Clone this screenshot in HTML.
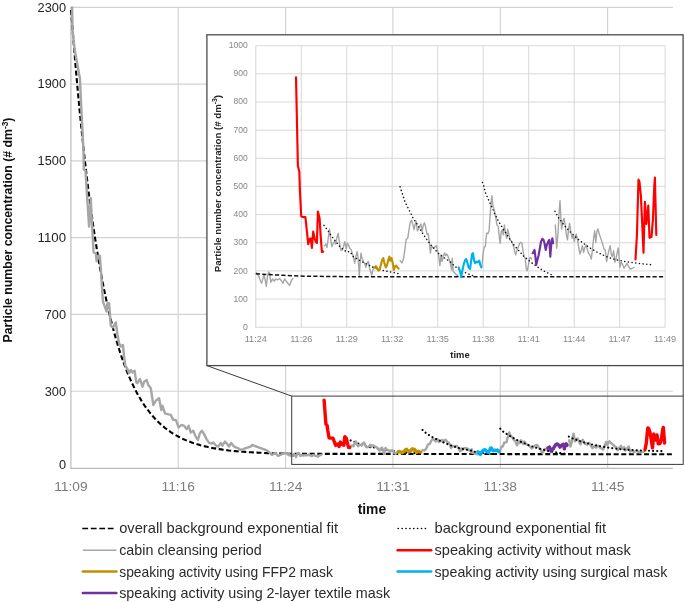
<!DOCTYPE html>
<html><head><meta charset="utf-8"><title>chart</title><style>html,body{margin:0;padding:0;background:#fff}body{width:685px;height:602px;overflow:hidden}</style></head><body>
<svg width="685" height="602" viewBox="0 0 685 602" style="display:block;will-change:transform;font-family:'Liberation Sans',sans-serif">
<rect width="685" height="602" fill="#fff"/>
<g stroke="#d2d2d2" stroke-width="1.15" fill="none">
<line x1="70.9" x2="672.8" y1="7.3" y2="7.3"/>
<line x1="70.9" x2="672.8" y1="84.1" y2="84.1"/>
<line x1="70.9" x2="672.8" y1="160.9" y2="160.9"/>
<line x1="70.9" x2="672.8" y1="237.6" y2="237.6"/>
<line x1="70.9" x2="672.8" y1="314.4" y2="314.4"/>
<line x1="70.9" x2="672.8" y1="391.2" y2="391.2"/>
<line x1="178.2" x2="178.2" y1="7.3" y2="468.3"/>
<line x1="285.6" x2="285.6" y1="7.3" y2="468.3"/>
<line x1="392.9" x2="392.9" y1="7.3" y2="468.3"/>
<line x1="500.3" x2="500.3" y1="7.3" y2="468.3"/>
<line x1="607.6" x2="607.6" y1="7.3" y2="468.3"/>
</g>
<g stroke="#bcbcbc" stroke-width="1.2" fill="none"><line x1="70.9" x2="70.9" y1="6.8" y2="468.9"/><line x1="70.3" x2="672.8" y1="468.3" y2="468.3"/></g>
<g font-size="12.3" fill="#222" text-anchor="end">
<text x="66" y="11.6" textLength="28.4" lengthAdjust="spacingAndGlyphs">2300</text>
<text x="66" y="88.4" textLength="28.4" lengthAdjust="spacingAndGlyphs">1900</text>
<text x="66" y="165.2" textLength="28.4" lengthAdjust="spacingAndGlyphs">1500</text>
<text x="66" y="241.9" textLength="28.4" lengthAdjust="spacingAndGlyphs">1100</text>
<text x="66" y="318.7" textLength="21.3" lengthAdjust="spacingAndGlyphs">700</text>
<text x="66" y="395.5" textLength="21.3" lengthAdjust="spacingAndGlyphs">300</text>
<text x="66" y="469.1" textLength="7.1" lengthAdjust="spacingAndGlyphs">0</text>
</g>
<g font-size="12.3" fill="#7c7c7c" text-anchor="middle">
<text x="70.9" y="491.2" textLength="33.4" lengthAdjust="spacingAndGlyphs">11:09</text>
<text x="178.2" y="491.2" textLength="33.4" lengthAdjust="spacingAndGlyphs">11:16</text>
<text x="285.6" y="491.2" textLength="33.4" lengthAdjust="spacingAndGlyphs">11:24</text>
<text x="392.9" y="491.2" textLength="33.4" lengthAdjust="spacingAndGlyphs">11:31</text>
<text x="500.3" y="491.2" textLength="33.4" lengthAdjust="spacingAndGlyphs">11:38</text>
<text x="607.6" y="491.2" textLength="33.4" lengthAdjust="spacingAndGlyphs">11:45</text>
</g>
<text x="371.9" y="514" font-size="14.8" font-weight="bold" fill="#111" text-anchor="middle" textLength="28.5" lengthAdjust="spacingAndGlyphs">time</text>
<text transform="translate(12.4 230) rotate(-90)" font-size="12.27" font-weight="bold" fill="#111" text-anchor="middle">Particle number concentration (# dm<tspan font-size="8.4" dy="-4.6">-3</tspan><tspan dy="4.6">)</tspan></text>
<g fill="none" stroke-linejoin="round" stroke-linecap="round">
<path d="M71.1 10.0 L73.1 35.9 L75.1 60.3 L77.1 83.3 L79.1 105.0 L81.1 125.4 L83.1 144.5 L85.1 162.6 L87.1 179.6 L89.1 195.7 L91.1 210.8 L93.1 225.0 L95.1 238.3 L97.1 250.9 L99.1 262.8 L101.1 274.0 L103.1 284.5 L105.1 294.4 L107.1 303.7 L109.1 312.5 L111.1 320.8 L113.1 328.6 L115.1 335.9 L117.1 342.8 L119.1 349.3 L121.1 355.5 L123.1 361.2 L125.1 366.7 L127.1 371.8 L129.1 376.6 L131.1 381.1 L133.1 385.4 L135.1 389.4 L137.1 393.2 L139.1 396.8 L141.1 400.1 L143.1 403.3 L145.1 406.3 L147.1 409.1 L149.1 411.7 L151.1 414.2 L153.1 416.5 L155.1 418.7 L157.1 420.8 L159.1 422.8 L161.1 424.6 L163.1 426.3 L165.1 428.0 L167.1 429.5 L169.1 430.9 L171.1 432.3 L173.1 433.6 L175.1 434.8 L177.1 435.9 L179.1 437.0 L181.1 438.0 L183.1 439.0 L185.1 439.9 L187.1 440.7 L189.1 441.5 L191.1 442.2 L193.1 443.0 L195.1 443.6 L197.1 444.2 L199.1 444.8 L201.1 445.4 L203.1 445.9 L205.1 446.4 L207.1 446.8 L209.1 447.3 L211.1 447.7 L213.1 448.1 L215.1 448.4 L217.1 448.8 L219.1 449.1 L221.1 449.4 L223.1 449.7 L225.1 450.0 L227.1 450.2 L229.1 450.5 L231.1 450.7 L233.1 450.9 L235.1 451.1 L237.1 451.3 L239.1 451.5 L241.1 451.6 L243.1 451.8 L245.1 451.9 L247.1 452.1 L249.1 452.2 L251.1 452.3 L253.1 452.4 L255.1 452.5 L257.1 452.6 L259.1 452.7 L261.1 452.8 L263.1 452.9 L265.1 453.0 L267.1 453.1 L269.1 453.1 L271.1 453.2 L273.1 453.3 L275.1 453.3 L277.1 453.4 L279.1 453.4 L281.1 453.5 L283.1 453.5 L285.1 453.6 L287.1 453.6 L289.1 453.7 L291.1 453.7 L293.1 453.7 L295.1 453.8 L297.1 453.8 L299.1 453.8 L673.0 454.3" stroke="#000" stroke-width="2.1" stroke-dasharray="5 2.6" stroke-linecap="butt"/>
<path d="M350.6 440.4 L353.7 441.6 L359.2 443.9 L365.5 446.2 L371.8 447.6 L375.1 447.5 L378.3 448.9 L384.6 450.0 L390.9 450.9 L397.1 451.8 L403.4 452.5 L409.7 452.9 L416.0 453.2 L421.5 453.5" stroke="#000" stroke-width="2.1" stroke-dasharray="0.1 4.0"/>
<path d="M72.1 7.5 L72.5 30.0 L74.7 50.0 L80.0 79.0 L80.9 100.0 L83.5 150.0 L83.8 169.5 L85.5 170.8 L87.0 195.0 L89.1 226.6 L90.8 198.3 L91.6 216.6 L93.6 252.3 L95.8 253.1 L96.6 261.4 L98.3 255.6 L99.9 255.6 L101.2 274.7 L102.4 293.8 L103.0 301.6 L106.6 311.6 L107.5 303.3 L109.1 303.3 L110.0 315.0 L110.8 325.8 L113.0 327.4 L115.8 322.4 L117.5 334.9 L119.1 343.2 L120.8 346.6 L122.9 344.9 L124.1 356.6 L125.3 365.7 L127.4 369.0 L129.1 373.2 L130.8 369.9 L132.4 372.4 L134.6 370.7 L136.3 382.3 L137.4 383.2 L139.9 379.0 L142.5 386.7 L144.2 381.7 L146.7 380.0 L148.3 385.0 L150.8 388.3 L153.3 405.0 L155.8 400.8 L159.1 398.3 L161.3 410.0 L162.5 405.8 L165.0 413.3 L167.5 414.1 L170.8 414.9 L173.3 419.9 L175.8 419.9 L178.6 427.4 L181.6 424.9 L184.1 425.8 L186.6 429.1 L188.6 425.8 L190.7 432.4 L193.2 430.7 L195.7 436.6 L197.9 439.9 L199.9 433.2 L201.9 430.7 L204.1 434.1 L206.6 439.1 L209.1 442.9 L211.5 443.6 L213.2 442.4 L215.7 445.2 L218.2 446.6 L220.7 442.9 L222.4 445.7 L224.9 441.6 L227.4 444.1 L229.0 446.6 L231.2 442.9 L233.2 445.7 L235.7 447.4 L238.2 448.2 L240.7 449.9 L243.2 449.1 L245.7 448.2 L248.2 447.4 L250.6 446.6 L252.3 444.9 L254.0 445.7 L266.8 450.4 L268.6 451.7 L271.9 454.9 L275.1 452.9 L278.1 455.9 L281.9 454.2 L285.7 452.9 L289.4 455.4 L293.2 455.9 L286.6 453.3 L288.2 453.9 L289.3 454.5 L290.4 455.4 L291.6 456.1 L292.9 454.8 L294.0 453.9 L295.1 455.4 L296.0 457.0 L297.1 454.3 L298.2 453.0 L299.2 453.4 L300.3 455.9 L301.9 455.0 L303.4 455.6 L305.0 455.0 L306.6 455.2 L308.6 454.8 L310.2 455.4 L311.8 456.1 L313.3 455.0 L314.9 455.6 L316.5 456.2 L318.1 456.7 L319.6 455.4 L321.2 454.8" stroke="#a6a6a6" stroke-width="2.4"/>
<path d="M351.1 445.9 L352.2 445.5 L353.4 446.4 L354.5 443.9 L355.8 441.4 L356.9 444.3 L358.0 446.2 L359.2 445.3 L360.5 444.8 L361.6 445.5 L362.7 443.7 L364.0 442.5 L365.2 445.3 L366.3 447.1 L367.9 447.2 L369.0 446.2 L370.3 444.8 L371.5 446.8 L372.6 445.3 L373.7 445.7 L375.0 446.6 L376.4 447.1 L377.5 448.2 L378.6 449.3 L379.5 450.7 L380.6 448.9 L381.9 447.5 L383.0 449.8 L383.9 454.1 L384.9 449.8 L385.5 448.0 L386.5 449.3 L387.7 450.2 L389.0 450.7 L390.1 451.8 L391.3 450.7 L392.4 450.2 L393.7 452.0 L394.8 453.2 L395.6 453.9 L396.8 452.5 L397.6 451.7" stroke="#a6a6a6" stroke-width="2.4"/>
<path d="M422.6 450.0 L424.2 450.6 L425.8 449.3 L427.0 446.8 L428.3 444.1 L429.7 444.0 L430.9 441.4 L432.1 439.6 L433.3 438.9 L434.6 440.3 L435.7 441.5 L436.8 440.0 L437.7 439.3 L438.8 441.9 L439.9 441.4 L441.2 440.5 L442.3 440.0 L443.2 442.1 L444.3 440.5 L445.4 439.7 L446.7 441.0 L447.8 442.8 L449.0 442.6 L450.1 445.3 L451.1 448.0 L452.2 445.9 L453.3 446.4 L454.5 446.6 L455.6 446.2 L456.9 445.9 L458.0 447.5 L458.9 448.6 L460.0 451.4 L461.1 448.4 L462.1 450.2 L463.2 448.9 L464.4 447.9 L465.5 448.6 L466.6 448.2 L467.9 448.9 L469.0 449.8 L470.3 451.1 L471.0 452.5 L471.8 449.3 L472.8 452.9 L474.3 453.4 L475.9 453.9 L477.5 454.2" stroke="#a6a6a6" stroke-width="2.4"/>
<path d="M499.8 451.6 L500.8 448.6 L501.9 446.4 L503.0 446.2 L504.2 442.5 L505.5 442.6 L506.6 441.9 L507.4 438.5 L508.2 435.3 L509.3 432.4 L510.2 435.1 L511.0 435.8 L511.8 436.7 L512.9 438.2 L514.0 440.3 L515.2 440.7 L516.3 443.9 L517.1 445.3 L518.1 442.1 L519.2 441.6 L519.9 443.0 L521.0 440.3 L522.0 442.3 L523.1 443.9 L524.2 441.4 L525.1 442.5 L526.2 444.3 L527.3 444.6 L528.6 445.3 L529.7 446.2 L531.0 447.7 L531.7 448.4 L533.0 447.1 L534.1 446.4 L535.4 445.3 L536.5 445.0 L537.6 445.3 L538.5 447.1 L539.6 448.9 L540.7 449.3 L541.6 452.0 L542.4 452.7 L543.5 451.6 L544.6 449.3 L545.9 449.1 L546.7 449.6" stroke="#a6a6a6" stroke-width="2.4"/>
<path d="M569.2 440.3 L570.4 446.6 L571.7 442.5 L572.8 436.7 L573.6 433.7 L574.4 438.0 L575.1 441.4 L576.4 439.1 L577.5 438.5 L578.6 440.5 L579.5 442.8 L580.6 444.3 L581.7 441.4 L582.7 439.8 L583.8 442.1 L585.0 443.9 L586.1 443.2 L587.1 444.8 L588.0 443.4 L589.0 442.8 L590.1 444.3 L591.2 446.2 L592.4 448.2 L593.7 447.1 L594.8 445.9 L595.9 447.7 L597.1 446.4 L598.4 445.7 L599.5 447.1 L600.6 448.0 L601.9 448.4 L603.1 449.6 L604.2 447.1 L605.3 443.9 L606.3 441.9 L607.4 445.0 L608.5 442.1 L609.4 441.3 L610.5 442.5 L612.1 443.9 L613.7 445.3 L615.2 446.8 L616.3 447.1 L617.6 450.2 L618.7 448.6 L619.9 447.1 L621.1 445.9 L622.0 448.2 L623.1 448.9 L624.2 447.3 L625.5 450.5 L626.6 449.3 L627.5 448.0 L628.6 446.5 L629.4 448.9 L630.2 451.8 L631.4 450.5 L632.5 450.9 L634.1 452.0 L635.7 451.4 L636.8 450.7 L638.0 451.4 L639.6 452.3 L641.5 452.1 L643.5 451.8" stroke="#a6a6a6" stroke-width="2.4"/>
<path d="M422.5 429.9 L423.4 430.8 L427.0 433.9 L431.7 436.7 L434.9 438.5 L438.0 439.8 L442.7 442.1 L447.5 444.1 L452.2 445.9 L458.5 448.0 L464.8 449.3 L469.6 450.2 L474.3 451.6 L479.1 452.5 L485.4 453.4 L490.1 453.9 L494.0 454.2" stroke="#000" stroke-width="2.1" stroke-dasharray="0.1 4.0"/>
<path d="M500.3 428.7 L501.5 429.6 L502.6 431.1 L505.8 433.3 L508.9 435.3 L512.1 437.3 L515.2 439.1 L519.9 441.4 L524.7 443.4 L529.4 445.5 L534.1 447.1 L538.8 448.6 L543.5 449.8 L548.2 450.9 L553.0 451.8 L557.7 452.7 L562.4 453.4 L565.9 453.9" stroke="#000" stroke-width="2.1" stroke-dasharray="0.1 4.0"/>
<path d="M568.8 436.6 L572.0 438.2 L576.7 440.0 L581.4 441.6 L586.1 443.0 L590.9 444.2 L595.6 445.3 L601.9 446.5 L608.2 447.6 L614.4 448.5 L620.7 449.2 L627.0 449.8 L633.3 450.1 L639.6 450.4 L645.9 450.6 L652.2 450.9 L658.5 451.0 L662.4 451.2" stroke="#000" stroke-width="2.1" stroke-dasharray="0.1 4.0"/>
<path d="M324.1 400.1 L325.9 424.2 L327.2 425.7 L327.8 430.8 L329.1 437.9 L330.6 438.1 L333.0 438.1 L334.1 441.2 L335.7 445.5 L336.9 444.1 L338.0 443.9 L339.1 446.5 L340.4 442.1 L341.6 443.9 L342.7 444.8 L343.8 445.2 L344.8 436.7 L346.4 438.5 L347.5 443.4 L348.6 447.6 L349.8 447.5" stroke="#ff0000" stroke-width="3.4"/>
<path d="M398.4 451.8 L399.5 451.5 L400.8 452.0 L402.2 452.7 L403.4 452.0 L404.5 450.9 L405.5 449.8 L406.6 449.3 L407.7 450.7 L408.9 451.8 L410.0 451.4 L411.3 449.8 L412.4 448.9 L413.3 450.0 L414.4 449.3 L415.5 450.7 L416.5 452.5 L417.6 451.6 L418.8 451.4 L419.9 451.8 L421.0 452.1" stroke="#bf9000" stroke-width="3.4"/>
<path d="M477.8 451.8 L479.1 452.9 L480.3 454.4 L481.4 452.5 L482.7 450.9 L484.1 449.8 L485.0 449.6 L486.1 450.7 L487.2 451.8 L488.5 452.3 L489.6 450.2 L490.5 448.2 L491.3 448.0 L492.4 450.0 L493.5 450.7 L494.8 450.2 L496.0 450.5 L497.3 450.0 L498.2 451.1 L499.2 451.8" stroke="#00b0f0" stroke-width="3.4"/>
<path d="M547.8 448.0 L548.7 447.5 L549.5 447.1 L550.3 448.9 L551.1 451.1 L552.2 449.8 L553.3 448.6 L554.5 446.6 L555.6 444.8 L556.9 444.0 L558.0 444.3 L558.9 445.3 L560.0 447.1 L561.1 445.7 L562.4 444.8 L563.5 444.3 L564.4 448.9 L565.2 445.7 L566.3 443.9 L567.1 445.3" stroke="#7030a0" stroke-width="3.4"/>
<path d="M645.0 449.6 L646.3 443.2 L647.2 433.5 L647.8 427.9 L648.7 428.6 L650.0 432.4 L651.4 440.5 L652.5 447.9 L653.8 434.0 L655.1 440.0 L656.3 437.3 L657.0 435.0 L658.2 443.8 L660.0 443.5 L661.4 438.9 L662.7 429.7 L663.3 427.4 L664.6 443.0" stroke="#ff0000" stroke-width="3.4"/>
</g>
<g fill="none" stroke="#3a3a3a" stroke-width="1">
<rect x="291.7" y="396.1" width="391.5" height="68.3"/>
<line x1="206.8" y1="365.6" x2="291.7" y2="396.1"/>
<line x1="683.2" y1="365.6" x2="683.2" y2="396.1"/>
</g>
<rect x="206.9" y="34.8" width="476.2" height="330.8" fill="#fff" stroke="#4a4a4a" stroke-width="1.3"/>
<g stroke="#d5d5d5" stroke-width="0.9" fill="none">
<line x1="255.8" x2="665.1" y1="299.1" y2="299.1"/>
<line x1="255.8" x2="665.1" y1="270.9" y2="270.9"/>
<line x1="255.8" x2="665.1" y1="242.8" y2="242.8"/>
<line x1="255.8" x2="665.1" y1="214.6" y2="214.6"/>
<line x1="255.8" x2="665.1" y1="186.4" y2="186.4"/>
<line x1="255.8" x2="665.1" y1="158.3" y2="158.3"/>
<line x1="255.8" x2="665.1" y1="130.2" y2="130.2"/>
<line x1="255.8" x2="665.1" y1="102.0" y2="102.0"/>
<line x1="255.8" x2="665.1" y1="73.8" y2="73.8"/>
<line x1="255.8" x2="665.1" y1="45.7" y2="45.7"/>
<line x1="301.3" x2="301.3" y1="45.7" y2="327.2"/>
<line x1="346.8" x2="346.8" y1="45.7" y2="327.2"/>
<line x1="392.2" x2="392.2" y1="45.7" y2="327.2"/>
<line x1="437.7" x2="437.7" y1="45.7" y2="327.2"/>
<line x1="483.2" x2="483.2" y1="45.7" y2="327.2"/>
<line x1="528.7" x2="528.7" y1="45.7" y2="327.2"/>
<line x1="574.2" x2="574.2" y1="45.7" y2="327.2"/>
<line x1="619.6" x2="619.6" y1="45.7" y2="327.2"/>
<line x1="665.1" x2="665.1" y1="45.7" y2="327.2"/>
</g>
<g stroke="#cfcfcf" stroke-width="0.9" fill="none"><line x1="255.8" x2="255.8" y1="45.7" y2="327.6"/><line x1="255.4" x2="665.1" y1="327.2" y2="327.2"/></g>
<g font-size="8.3" fill="#868686" text-anchor="end">
<text x="247.7" y="329.9" textLength="4.8" lengthAdjust="spacingAndGlyphs">0</text>
<text x="247.7" y="301.8" textLength="14.2" lengthAdjust="spacingAndGlyphs">100</text>
<text x="247.7" y="273.6" textLength="14.2" lengthAdjust="spacingAndGlyphs">200</text>
<text x="247.7" y="245.4" textLength="14.2" lengthAdjust="spacingAndGlyphs">300</text>
<text x="247.7" y="217.2" textLength="14.2" lengthAdjust="spacingAndGlyphs">400</text>
<text x="247.7" y="189.0" textLength="14.2" lengthAdjust="spacingAndGlyphs">500</text>
<text x="247.7" y="160.8" textLength="14.2" lengthAdjust="spacingAndGlyphs">600</text>
<text x="247.7" y="132.6" textLength="14.2" lengthAdjust="spacingAndGlyphs">700</text>
<text x="247.7" y="104.4" textLength="14.2" lengthAdjust="spacingAndGlyphs">800</text>
<text x="247.7" y="76.2" textLength="14.2" lengthAdjust="spacingAndGlyphs">900</text>
<text x="247.7" y="48.0" textLength="19.0" lengthAdjust="spacingAndGlyphs">1000</text>
</g>
<g font-size="8.3" fill="#868686" text-anchor="middle">
<text x="255.8" y="342.1" textLength="22.3" lengthAdjust="spacingAndGlyphs">11:24</text>
<text x="301.3" y="342.1" textLength="22.3" lengthAdjust="spacingAndGlyphs">11:26</text>
<text x="346.8" y="342.1" textLength="22.3" lengthAdjust="spacingAndGlyphs">11:29</text>
<text x="392.2" y="342.1" textLength="22.3" lengthAdjust="spacingAndGlyphs">11:32</text>
<text x="437.7" y="342.1" textLength="22.3" lengthAdjust="spacingAndGlyphs">11:35</text>
<text x="483.2" y="342.1" textLength="22.3" lengthAdjust="spacingAndGlyphs">11:38</text>
<text x="528.7" y="342.1" textLength="22.3" lengthAdjust="spacingAndGlyphs">11:41</text>
<text x="574.2" y="342.1" textLength="22.3" lengthAdjust="spacingAndGlyphs">11:44</text>
<text x="619.6" y="342.1" textLength="22.3" lengthAdjust="spacingAndGlyphs">11:47</text>
<text x="665.1" y="342.1" textLength="22.3" lengthAdjust="spacingAndGlyphs">11:49</text>
</g>
<text x="460" y="357.7" font-size="9.2" font-weight="bold" fill="#222" text-anchor="middle" textLength="19.3" lengthAdjust="spacingAndGlyphs">time</text>
<text transform="translate(220.6 183.6) rotate(-90)" font-size="9.67" font-weight="bold" fill="#222" text-anchor="middle">Particle number concentration (# dm<tspan font-size="6.8" dy="-3.6">-3</tspan><tspan dy="3.6">)</tspan></text>
<g fill="none" stroke-linejoin="round" stroke-linecap="round">
<path d="M256.3 272.7 L258.0 274.9 L259.2 277.4 L260.3 280.7 L261.6 283.2 L263.0 278.2 L264.1 274.9 L265.3 280.7 L266.3 286.5 L267.5 276.5 L268.6 271.9 L269.6 273.2 L270.8 282.3 L272.5 279.0 L274.1 281.2 L275.8 279.0 L277.5 279.9 L279.6 278.5 L281.3 280.7 L282.9 283.2 L284.6 279.0 L286.3 281.2 L287.9 283.5 L289.6 285.2 L291.3 280.7 L292.9 278.5" stroke="#a6a6a6" stroke-width="1.4"/>
<path d="M324.5 245.7 L325.7 244.1 L327.0 247.4 L328.2 238.3 L329.5 229.1 L330.7 239.9 L331.9 246.6 L333.2 243.2 L334.5 241.6 L335.7 244.1 L336.9 237.4 L338.2 233.3 L339.5 243.2 L340.7 249.9 L342.3 250.2 L343.5 246.6 L344.8 241.6 L346.2 249.1 L347.3 243.2 L348.5 244.9 L349.8 248.2 L351.3 249.9 L352.5 254.1 L353.7 258.2 L354.7 263.2 L355.8 256.6 L357.2 251.6 L358.3 259.9 L359.3 275.7 L360.3 259.9 L361.0 253.2 L362.0 258.2 L363.3 261.5 L364.6 263.2 L365.8 267.4 L367.1 263.2 L368.3 261.5 L369.6 268.2 L370.8 272.4 L371.6 275.2 L373.0 269.9 L373.8 266.9" stroke="#a6a6a6" stroke-width="1.4"/>
<path d="M400.2 260.7 L401.9 262.9 L403.6 258.2 L404.9 249.1 L406.2 239.1 L407.7 238.6 L409.1 229.1 L410.2 222.4 L411.6 220.0 L412.9 224.9 L414.1 229.6 L415.2 224.1 L416.2 221.3 L417.4 230.8 L418.6 229.1 L419.9 225.8 L421.0 224.1 L422.0 231.6 L423.2 225.8 L424.4 222.8 L425.7 227.4 L426.9 234.1 L428.2 233.6 L429.4 243.2 L430.4 253.2 L431.5 245.7 L432.7 247.4 L434.0 248.2 L435.2 246.6 L436.5 245.7 L437.7 251.6 L438.7 255.7 L439.9 265.7 L441.0 254.9 L442.0 261.5 L443.2 256.6 L444.5 252.9 L445.7 255.7 L446.8 254.1 L448.2 256.6 L449.3 259.9 L450.7 264.9 L451.5 269.9 L452.3 258.2 L453.3 271.5 L455.0 273.2 L456.7 274.9 L458.3 276.2" stroke="#a6a6a6" stroke-width="1.4"/>
<path d="M481.9 266.5 L482.9 255.7 L484.1 247.4 L485.3 246.6 L486.6 233.3 L487.9 233.6 L489.1 230.8 L489.9 218.3 L490.8 206.6 L491.9 195.8 L492.9 205.8 L493.8 208.3 L494.6 211.6 L495.8 217.5 L496.9 224.9 L498.3 226.6 L499.4 238.3 L500.2 243.2 L501.2 231.6 L502.4 229.9 L503.2 234.9 L504.4 224.9 L505.4 232.4 L506.6 238.3 L507.7 229.1 L508.7 233.3 L509.9 239.9 L511.1 240.7 L512.4 243.2 L513.6 246.6 L514.9 252.4 L515.7 254.9 L517.1 249.9 L518.2 247.4 L519.6 243.2 L520.7 242.4 L521.9 243.2 L522.9 249.9 L524.0 256.6 L525.2 258.2 L526.2 268.2 L527.0 270.7 L528.2 266.5 L529.4 258.2 L530.7 257.4 L531.5 259.1" stroke="#a6a6a6" stroke-width="1.4"/>
<path d="M555.3 224.9 L556.7 248.2 L558.0 233.3 L559.2 211.6 L560.0 200.8 L560.8 216.6 L561.6 229.1 L563.0 220.8 L564.1 218.3 L565.3 225.8 L566.3 234.1 L567.5 239.9 L568.6 229.1 L569.6 223.3 L570.8 231.6 L572.1 238.3 L573.3 235.8 L574.3 241.6 L575.3 236.6 L576.3 234.1 L577.5 239.9 L578.6 246.6 L580.0 254.1 L581.3 249.9 L582.4 245.7 L583.6 252.4 L584.9 247.4 L586.3 244.9 L587.4 249.9 L588.6 253.2 L589.9 254.9 L591.3 259.1 L592.4 249.9 L593.6 238.3 L594.6 230.8 L595.8 242.4 L596.9 231.6 L597.9 228.6 L599.1 233.3 L600.7 238.3 L602.4 243.2 L604.1 249.1 L605.2 249.9 L606.6 261.5 L607.7 255.7 L609.1 249.9 L610.2 245.7 L611.2 254.1 L612.4 256.6 L613.6 250.7 L614.9 262.4 L616.1 258.2 L617.1 253.2 L618.2 247.9 L619.1 256.6 L619.9 267.4 L621.2 262.4 L622.4 264.0 L624.0 268.2 L625.7 265.7 L626.9 263.2 L628.2 265.7 L629.9 269.0 L631.9 268.5 L634.0 267.4" stroke="#a6a6a6" stroke-width="1.4"/>
<path d="M255.8 273.7 L266.6 274.5 L283.3 275.3 L300.0 276.1 L336.0 276.6 L364.0 276.7 L663.5 276.7" stroke="#111" stroke-width="1.5" stroke-dasharray="4.2 2.2" stroke-linecap="butt"/>
<path d="M324.0 225.4 L327.4 229.9 L333.2 238.3 L339.9 246.6 L346.5 251.9 L350.0 251.6 L353.3 256.6 L360.0 260.7 L366.6 264.0 L373.3 267.4 L380.0 269.9 L386.6 271.2 L393.3 272.4 L399.1 273.7" stroke="#111" stroke-width="1.5" stroke-dasharray="0.1 3.6"/>
<path d="M400.1 186.8 L401.1 190.0 L404.9 201.6 L409.9 211.6 L413.2 218.3 L416.6 223.3 L421.5 231.6 L426.5 239.1 L431.5 245.7 L438.2 253.2 L444.8 258.2 L450.0 261.5 L455.0 266.5 L460.0 269.9 L466.6 273.2 L471.6 275.2 L475.8 276.2" stroke="#111" stroke-width="1.5" stroke-dasharray="0.1 3.6"/>
<path d="M482.5 182.4 L483.7 185.6 L484.9 191.3 L488.3 199.2 L491.6 206.6 L494.9 214.1 L498.3 220.8 L503.2 229.1 L508.2 236.6 L513.2 244.1 L518.2 249.9 L523.2 255.7 L528.2 259.9 L533.2 264.0 L538.2 267.4 L543.2 270.7 L548.2 273.2 L551.8 274.9" stroke="#111" stroke-width="1.5" stroke-dasharray="0.1 3.6"/>
<path d="M555.0 211.3 L558.3 217.5 L563.3 224.1 L568.3 229.9 L573.3 234.9 L578.3 239.4 L583.3 243.2 L589.9 247.9 L596.6 251.9 L603.2 255.2 L609.9 257.9 L616.6 259.9 L623.2 261.2 L629.9 262.2 L636.5 263.0 L643.2 263.9 L649.8 264.5 L654.0 265.2" stroke="#111" stroke-width="1.5" stroke-dasharray="0.1 3.6"/>
<path d="M296.0 77.3 L297.9 166.0 L299.3 171.4 L299.9 190.0 L301.2 216.3 L302.9 217.1 L305.4 217.1 L306.6 228.3 L308.2 244.1 L309.6 239.1 L310.7 238.3 L311.9 247.9 L313.2 231.6 L314.6 238.3 L315.7 241.6 L316.9 242.9 L317.9 211.6 L319.6 218.3 L320.7 236.6 L321.9 251.9 L323.2 251.6" stroke="#ff0000" stroke-width="2.15"/>
<path d="M374.6 267.4 L375.8 266.2 L377.1 268.2 L378.6 270.7 L380.0 268.2 L381.1 264.0 L382.1 259.9 L383.3 258.2 L384.4 263.2 L385.8 267.4 L386.9 265.7 L388.3 259.9 L389.4 256.6 L390.4 260.7 L391.6 258.2 L392.8 263.2 L393.8 269.9 L394.9 266.5 L396.3 265.7 L397.4 267.4 L398.6 268.5" stroke="#bf9000" stroke-width="2.15"/>
<path d="M458.7 267.4 L460.0 271.5 L461.3 276.9 L462.5 269.9 L463.8 264.0 L465.3 259.9 L466.3 259.1 L467.5 263.2 L468.6 267.4 L470.0 269.0 L471.1 261.5 L472.1 254.1 L473.0 253.2 L474.1 260.7 L475.3 263.2 L476.6 261.5 L478.0 262.4 L479.3 260.7 L480.3 264.9 L481.3 267.4" stroke="#00b0f0" stroke-width="2.15"/>
<path d="M532.7 253.2 L533.7 251.6 L534.5 249.9 L535.4 256.6 L536.2 264.9 L537.4 259.9 L538.5 255.7 L539.9 248.2 L541.0 241.6 L542.3 238.8 L543.5 239.9 L544.5 243.2 L545.7 249.9 L546.8 244.9 L548.2 241.6 L549.3 239.9 L550.3 256.6 L551.2 244.9 L552.3 238.3 L553.2 243.2" stroke="#7030a0" stroke-width="2.15"/>
<path d="M635.5 259.4 L636.9 235.8 L637.9 199.9 L638.5 179.6 L639.5 182.0 L640.9 195.9 L642.3 225.9 L643.5 252.8 L644.9 201.9 L646.3 223.9 L647.5 213.9 L648.3 205.5 L649.5 237.8 L651.5 236.8 L652.9 219.9 L654.3 185.9 L654.9 177.6 L656.3 234.9" stroke="#ff0000" stroke-width="2.15"/>
</g>
<g font-size="14.3" fill="#2a2a2a">
<text x="119.2" y="533.4" textLength="218.8" lengthAdjust="spacingAndGlyphs">overall background exponential fit</text>
<text x="119.2" y="555.1" textLength="142.6" lengthAdjust="spacingAndGlyphs">cabin cleansing period</text>
<text x="119.2" y="576.5" textLength="213.8" lengthAdjust="spacingAndGlyphs">speaking activity using FFP2 mask</text>
<text x="119.2" y="597.9" textLength="270.9" lengthAdjust="spacingAndGlyphs">speaking activity using 2-layer textile mask</text>
<text x="434.5" y="533.4" textLength="171.7" lengthAdjust="spacingAndGlyphs">background exponential fit</text>
<text x="434.5" y="555.1" textLength="196.2" lengthAdjust="spacingAndGlyphs">speaking activity without mask</text>
<text x="434.5" y="576.5" textLength="232.8" lengthAdjust="spacingAndGlyphs">speaking activity using surgical mask</text>
</g>
<g fill="none">
<line x1="82.3" x2="114" y1="528.5" y2="528.5" stroke="#000" stroke-width="1.7" stroke-dasharray="5.8 2.7"/>
<line x1="82.8" x2="116.4" y1="550.2" y2="550.2" stroke="#a6a6a6" stroke-width="1.6"/>
<line x1="82.8" x2="116.4" y1="571.6" y2="571.6" stroke="#bf9000" stroke-width="2.5" stroke-linecap="round"/>
<line x1="82.8" x2="116.4" y1="593.0" y2="593.0" stroke="#7030a0" stroke-width="2.5" stroke-linecap="round"/>
<line x1="398.2" x2="428.5" y1="528.5" y2="528.5" stroke="#000" stroke-width="1.6" stroke-dasharray="0.1 3.78" stroke-linecap="round"/>
<line x1="397.6" x2="431.2" y1="550.2" y2="550.2" stroke="#ff0000" stroke-width="2.5" stroke-linecap="round"/>
<line x1="397.6" x2="431.2" y1="571.6" y2="571.6" stroke="#00b0f0" stroke-width="2.5" stroke-linecap="round"/>
</g>
</svg>
</body></html>
